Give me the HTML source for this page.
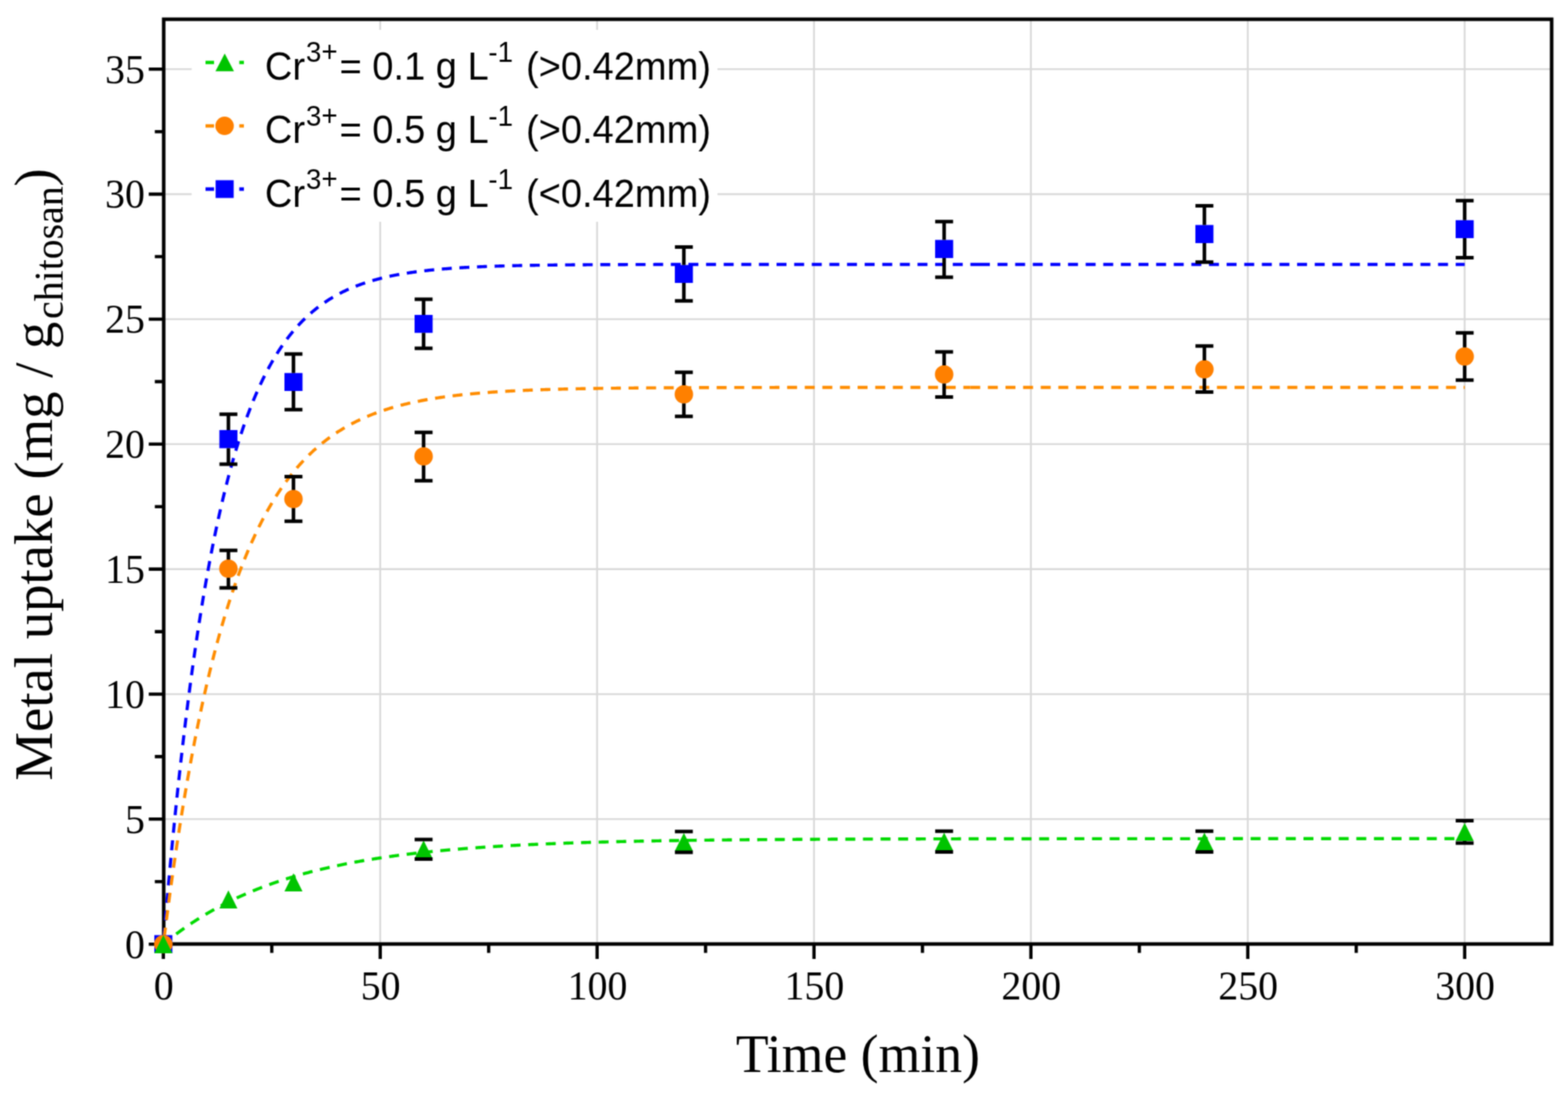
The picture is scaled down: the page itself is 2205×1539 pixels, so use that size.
<!DOCTYPE html>
<html><head><meta charset="utf-8"><title>Metal uptake vs time</title>
<style>html,body{margin:0;padding:0;background:#fff}svg{display:block}</style></head>
<body><svg width="2205" height="1539" viewBox="0 0 2205 1539">
<defs><filter id="soft" x="0" y="0" width="2205" height="1539" filterUnits="userSpaceOnUse" color-interpolation-filters="sRGB"><feConvolveMatrix order="5" kernelMatrix="1 6 15 6 1 6 36 90 36 6 15 90 225 90 15 6 36 90 36 6 1 6 15 6 1" divisor="841" edgeMode="duplicate" preserveAlpha="true"/></filter></defs>
<g filter="url(#soft)">
<rect width="2205" height="1539" fill="#fff"/>
<line x1="534.7" y1="27.1" x2="534.7" y2="1328.0" stroke="#d9d9d9" stroke-width="2.6"/>
<line x1="839.7" y1="27.1" x2="839.7" y2="1328.0" stroke="#d9d9d9" stroke-width="2.6"/>
<line x1="1144.7" y1="27.1" x2="1144.7" y2="1328.0" stroke="#d9d9d9" stroke-width="2.6"/>
<line x1="1449.7" y1="27.1" x2="1449.7" y2="1328.0" stroke="#d9d9d9" stroke-width="2.6"/>
<line x1="1754.7" y1="27.1" x2="1754.7" y2="1328.0" stroke="#d9d9d9" stroke-width="2.6"/>
<line x1="2059.7" y1="27.1" x2="2059.7" y2="1328.0" stroke="#d9d9d9" stroke-width="2.6"/>
<line x1="230.2" y1="1152.3" x2="2182.0" y2="1152.3" stroke="#d9d9d9" stroke-width="2.6"/>
<line x1="230.2" y1="976.5" x2="2182.0" y2="976.5" stroke="#d9d9d9" stroke-width="2.6"/>
<line x1="230.2" y1="800.6" x2="2182.0" y2="800.6" stroke="#d9d9d9" stroke-width="2.6"/>
<line x1="230.2" y1="624.8" x2="2182.0" y2="624.8" stroke="#d9d9d9" stroke-width="2.6"/>
<line x1="230.2" y1="449.0" x2="2182.0" y2="449.0" stroke="#d9d9d9" stroke-width="2.6"/>
<line x1="230.2" y1="273.1" x2="2182.0" y2="273.1" stroke="#d9d9d9" stroke-width="2.6"/>
<line x1="230.2" y1="97.2" x2="2182.0" y2="97.2" stroke="#d9d9d9" stroke-width="2.6"/>
<rect x="269.5" y="42" width="739.5" height="270" fill="#fff"/>
<rect x="230.2" y="27.1" width="1951.8" height="1300.9" fill="none" stroke="#000" stroke-width="5.0"/>
<path d="M209.2 1328.2H230.2M209.2 1152.3H230.2M209.2 976.5H230.2M209.2 800.6H230.2M209.2 624.8H230.2M209.2 449.0H230.2M209.2 273.1H230.2M209.2 97.2H230.2M217.7 1240.3H230.2M217.7 1064.4H230.2M217.7 888.6H230.2M217.7 712.7H230.2M217.7 536.9H230.2M217.7 361.0H230.2M217.7 185.2H230.2M229.7 1328.0V1349.0M534.7 1328.0V1349.0M839.7 1328.0V1349.0M1144.7 1328.0V1349.0M1449.7 1328.0V1349.0M1754.7 1328.0V1349.0M2059.7 1328.0V1349.0M382.2 1328.0V1340.5M687.2 1328.0V1340.5M992.2 1328.0V1340.5M1297.2 1328.0V1340.5M1602.2 1328.0V1340.5M1907.2 1328.0V1340.5" stroke="#000" stroke-width="4.6" fill="none"/>
<text x="203.8" y="1347.5" text-anchor="end" style="font-family:'Liberation Serif','Times New Roman',serif;font-size:56px">0</text>
<text x="203.8" y="1171.6" text-anchor="end" style="font-family:'Liberation Serif','Times New Roman',serif;font-size:56px">5</text>
<text x="203.8" y="995.8" text-anchor="end" style="font-family:'Liberation Serif','Times New Roman',serif;font-size:56px">10</text>
<text x="203.8" y="819.9" text-anchor="end" style="font-family:'Liberation Serif','Times New Roman',serif;font-size:56px">15</text>
<text x="203.8" y="644.1" text-anchor="end" style="font-family:'Liberation Serif','Times New Roman',serif;font-size:56px">20</text>
<text x="203.8" y="468.3" text-anchor="end" style="font-family:'Liberation Serif','Times New Roman',serif;font-size:56px">25</text>
<text x="203.8" y="292.4" text-anchor="end" style="font-family:'Liberation Serif','Times New Roman',serif;font-size:56px">30</text>
<text x="203.8" y="116.5" text-anchor="end" style="font-family:'Liberation Serif','Times New Roman',serif;font-size:56px">35</text>
<text x="230.2" y="1406" text-anchor="middle" style="font-family:'Liberation Serif','Times New Roman',serif;font-size:56px">0</text>
<text x="535.2" y="1406" text-anchor="middle" style="font-family:'Liberation Serif','Times New Roman',serif;font-size:56px">50</text>
<text x="840.2" y="1406" text-anchor="middle" style="font-family:'Liberation Serif','Times New Roman',serif;font-size:56px">100</text>
<text x="1145.2" y="1406" text-anchor="middle" style="font-family:'Liberation Serif','Times New Roman',serif;font-size:56px">150</text>
<text x="1450.2" y="1406" text-anchor="middle" style="font-family:'Liberation Serif','Times New Roman',serif;font-size:56px">200</text>
<text x="1755.2" y="1406" text-anchor="middle" style="font-family:'Liberation Serif','Times New Roman',serif;font-size:56px">250</text>
<text x="2060.2" y="1406" text-anchor="middle" style="font-family:'Liberation Serif','Times New Roman',serif;font-size:56px">300</text>
<text x="1034.8" y="1507.5" style="font-family:'Liberation Serif','Times New Roman',serif;font-size:75.5px">Time (min)</text>
<text transform="translate(72.5,1098.2) rotate(-90)" style="font-family:'Liberation Serif','Times New Roman',serif;font-size:77px">Metal uptake (mg / g</text>
<text transform="translate(88,448.7) rotate(-90)" style="font-family:'Liberation Serif','Times New Roman',serif;font-size:56px">chitosan</text>
<text transform="translate(72.5,262.6) rotate(-90)" style="font-family:'Liberation Serif','Times New Roman',serif;font-size:77px">)</text>
<path d="M229.70 1328.20L229.72 1327.94L229.77 1327.40L229.83 1326.67L229.90 1325.78L229.98 1324.75L230.08 1323.58L230.19 1322.30L230.30 1320.90L230.43 1319.39L230.56 1317.78L230.70 1316.07L230.85 1314.27L231.01 1312.39L231.18 1310.42L231.35 1308.36L231.53 1306.23L231.72 1304.02L231.91 1301.74L232.11 1299.38L232.31 1296.96L232.53 1294.46L232.75 1291.91L232.97 1289.29L233.20 1286.61L233.44 1283.86L233.68 1281.07L233.93 1278.21L234.18 1275.30L234.44 1272.33L234.70 1269.32L234.97 1266.25L235.25 1263.14L235.53 1259.97L235.81 1256.76L236.10 1253.51L236.40 1250.21L236.70 1246.86L237.00 1243.48L237.31 1240.06L237.63 1236.59L237.95 1233.09L238.27 1229.55L238.60 1225.98L238.93 1222.37L239.27 1218.72L239.61 1215.05L239.96 1211.34L240.31 1207.60L240.67 1203.83L241.03 1200.03L241.39 1196.20L241.76 1192.35L242.13 1188.47L242.51 1184.56L242.89 1180.63L243.28 1176.67L243.67 1172.69L244.06 1168.69L244.46 1164.67L244.86 1160.63L245.27 1156.57L245.68 1152.49L246.09 1148.39L246.51 1144.27L246.94 1140.14L247.36 1135.99L247.79 1131.83L248.23 1127.65L248.66 1123.46L249.11 1119.25L249.55 1115.04L250.00 1110.81L250.45 1106.57L250.91 1102.32L251.37 1098.06L251.83 1093.79L252.30 1089.51L252.77 1085.22L253.25 1080.93L253.73 1076.63L254.21 1072.33L254.70 1068.02L255.19 1063.70L255.68 1059.38L256.17 1055.06L256.67 1050.73L257.18 1046.40L257.69 1042.07L258.20 1037.74L258.71 1033.40L259.23 1029.07L259.75 1024.73L260.27 1020.40L260.80 1016.07L261.33 1011.74L261.87 1007.41L262.40 1003.08L262.94 998.76L263.49 994.43L264.04 990.12L264.59 985.80L265.14 981.50L265.70 977.19L266.26 972.90L266.82 968.60L267.39 964.32L267.96 960.04L268.54 955.77L269.11 951.51L269.69 947.25L270.28 943.00L270.86 938.76L271.45 934.53L272.05 930.31L272.64 926.10L273.24 921.90L273.84 917.71L274.45 913.53L275.06 909.36L275.67 905.20L276.28 901.05L276.90 896.92L277.52 892.79L278.14 888.68L278.77 884.59L279.40 880.50L280.03 876.43L280.67 872.37L281.31 868.33L281.95 864.30L282.59 860.28L283.24 856.28L283.89 852.30L284.54 848.33L285.20 844.37L285.86 840.43L286.52 836.51L287.19 832.60L287.85 828.70L288.53 824.83L289.20 820.97L289.88 817.12L290.56 813.30L291.24 809.49L291.92 805.69L292.61 801.92L293.30 798.16L294.00 794.42L294.69 790.70L295.39 787.00L296.09 783.31L296.80 779.64L297.51 775.99L298.22 772.36L298.93 768.75L299.65 765.16L300.36 761.58L301.09 758.03L301.81 754.49L302.54 750.97L303.27 747.47L304.00 744.00L304.73 740.54L305.47 737.10L306.21 733.68L306.96 730.28L307.70 726.90L308.45 723.54L309.20 720.20L309.96 716.88L310.71 713.57L311.47 710.29L312.23 707.03L313.00 703.80L313.77 700.58L314.54 697.38L315.31 694.20L316.08 691.04L316.86 687.90L317.64 684.78L318.43 681.69L319.21 678.61L320.00 675.56L320.79 672.52L321.58 669.51L322.38 666.51L323.18 663.54L323.98 660.58L324.78 657.65L325.59 654.74L326.40 651.85L327.21 648.98L328.02 646.13L328.84 643.30L329.66 640.49L330.48 637.70L331.30 634.94L332.13 632.19L332.96 629.46L333.79 626.76L334.62 624.07L335.46 621.40L336.30 618.76L337.14 616.13L337.98 613.53L338.83 610.95L339.68 608.38L340.53 605.84L341.39 603.32L342.24 600.81L343.10 598.33L343.96 595.86L344.82 593.42L345.69 591.00L346.56 588.59L347.43 586.21L348.30 583.85L349.18 581.50L350.06 579.18L350.94 576.87L351.82 574.58L352.71 572.32L353.59 570.07L354.48 567.84L355.38 565.63L356.27 563.44L357.17 561.27L358.07 559.12L358.97 556.99L359.87 554.87L360.78 552.78L361.69 550.70L362.60 548.64L363.52 546.60L364.43 544.58L365.35 542.58L366.27 540.59L367.19 538.63L368.12 536.68L369.05 534.75L369.98 532.83L370.91 530.94L371.84 529.06L372.78 527.20L373.72 525.36L374.66 523.54L375.61 521.73L376.55 519.94L377.50 518.17L378.45 516.41L379.41 514.67L380.36 512.95L381.32 511.24L382.28 509.55L383.24 507.88L384.21 506.23L385.17 504.59L386.14 502.96L387.11 501.36L388.09 499.76L389.06 498.19L390.04 496.63L391.02 495.09L392.00 493.56L392.99 492.05L393.98 490.55L394.96 489.07L395.96 487.60L396.95 486.15L397.95 484.71L398.94 483.29L399.94 481.89L400.95 480.50L401.95 479.12L402.96 477.76L403.97 476.41L404.98 475.07L405.99 473.75L407.01 472.45L408.03 471.16L409.05 469.88L410.07 468.61L411.09 467.36L412.12 466.13L413.15 464.90L414.18 463.69L415.21 462.50L416.25 461.31L417.28 460.14L418.32 458.99L419.37 457.84L420.41 456.71L421.46 455.59L422.50 454.48L423.55 453.39L424.61 452.31L425.66 451.24L426.72 450.18L427.78 449.13L428.84 448.10L429.90 447.08L430.97 446.07L432.03 445.07L433.10 444.08L434.18 443.11L435.25 442.14L436.32 441.19L437.40 440.25L438.48 439.32L439.56 438.40L440.65 437.49L441.74 436.59L442.82 435.70L443.91 434.82L445.01 433.96L446.10 433.10L447.20 432.25L448.30 431.42L449.40 430.59L450.50 429.77L451.61 428.97L452.71 428.17L453.82 427.38L454.93 426.61L456.05 425.84L457.16 425.08L458.28 424.33L459.40 423.59L460.52 422.86L461.64 422.14L462.77 421.42L463.90 420.72L465.03 420.03L466.16 419.34L467.29 418.66L468.43 417.99L469.57 417.33L470.71 416.68L471.85 416.03L472.99 415.40L474.14 414.77L475.29 414.15L476.44 413.54L477.59 412.93L478.74 412.33L479.90 411.75L481.06 411.16L482.22 410.59L483.38 410.02L484.54 409.46L485.71 408.91L486.88 408.37L488.05 407.83L489.22 407.30L490.39 406.78L491.57 406.26L492.75 405.75L493.93 405.25L495.11 404.75L496.29 404.26L497.48 403.78L498.66 403.30L499.85 402.83L501.05 402.36L502.24 401.91L503.44 401.45L504.63 401.01L505.83 400.57L507.03 400.13L508.24 399.71L509.44 399.28L510.65 398.87L511.86 398.46L513.07 398.05L514.28 397.65L515.50 397.26L516.72 396.87L517.94 396.49L519.16 396.11L520.38 395.73L521.60 395.37L522.83 395.00L524.06 394.65L525.29 394.29L526.52 393.95L527.76 393.60L528.99 393.27L530.23 392.93L531.47 392.61L532.72 392.28L533.96 391.96L535.21 391.65L536.45 391.34L537.70 391.03L538.95 390.73L540.21 390.43L541.46 390.14L542.72 389.85L543.98 389.57L545.24 389.29L546.51 389.01L547.77 388.74L549.04 388.47L550.31 388.21L551.58 387.94L552.85 387.69L554.12 387.43L555.40 387.18L556.68 386.94L557.96 386.70L559.24 386.46L560.52 386.22L561.81 385.99L563.10 385.76L564.39 385.54L565.68 385.32L566.97 385.10L568.27 384.88L569.56 384.67L570.86 384.46L572.16 384.26L573.46 384.06L574.77 383.86L576.07 383.66L577.38 383.47L578.69 383.28L580.00 383.09L581.32 382.90L582.63 382.72L583.95 382.54L585.27 382.37L586.59 382.19L587.91 382.02L589.24 381.85L590.56 381.69L591.89 381.52L593.22 381.36L594.55 381.21L595.89 381.05L597.22 380.90L598.56 380.74L599.90 380.60L601.24 380.45L602.58 380.31L603.93 380.16L605.28 380.02L606.62 379.89L607.97 379.75L609.33 379.62L610.68 379.49L612.03 379.36L613.39 379.23L614.75 379.11L616.11 378.98L617.47 378.86L618.84 378.74L620.21 378.62L621.57 378.51L622.94 378.40L624.32 378.28L625.69 378.17L627.06 378.07L628.44 377.96L629.82 377.85L631.20 377.75L632.58 377.65L633.97 377.55L635.35 377.45L636.74 377.36L638.13 377.26L639.52 377.17L640.91 377.08L642.31 376.99L643.71 376.90L645.10 376.81L646.50 376.72L647.91 376.64L649.31 376.55L650.72 376.47L652.12 376.39L653.53 376.31L654.94 376.24L656.35 376.16L657.77 376.08L659.18 376.01L660.60 375.94L662.02 375.86L663.44 375.79L664.87 375.73L666.29 375.66L667.72 375.59L669.15 375.52L670.58 375.46L672.01 375.40L673.44 375.33L674.88 375.27L676.31 375.21L677.75 375.15L679.19 375.09L680.63 375.04L682.08 374.98L683.52 374.92L684.97 374.87L686.42 374.82L687.87 374.76L689.32 374.71L690.78 374.66L692.23 374.61L693.69 374.56L695.15 374.51L696.61 374.46L698.07 374.42L699.54 374.37L701.01 374.33L702.47 374.28L703.94 374.24L705.41 374.20L706.89 374.15L708.36 374.11L709.84 374.07L711.32 374.03L712.80 373.99L714.28 373.95L715.76 373.92L717.25 373.88L718.73 373.84L720.22 373.81L721.71 373.77L723.20 373.74L724.70 373.70L726.19 373.67L727.69 373.64L729.19 373.60L730.69 373.57L732.19 373.54L733.69 373.51L735.20 373.48L736.71 373.45L738.21 373.42L739.72 373.39L741.24 373.37L742.75 373.34L744.27 373.31L745.78 373.29L747.30 373.26L748.82 373.23L750.34 373.21L751.87 373.18L753.39 373.16L754.92 373.14L756.45 373.11L757.98 373.09L759.51 373.07L761.05 373.05L762.58 373.02L764.12 373.00L765.66 372.98L767.20 372.96L768.74 372.94L770.28 372.92L771.83 372.90L773.37 372.88L774.92 372.87L776.47 372.85L778.03 372.83L779.58 372.81L781.13 372.79L782.69 372.78L784.25 372.76L785.81 372.74L787.37 372.73L788.94 372.71L790.50 372.70L792.07 372.68L793.64 372.67L795.21 372.65L796.78 372.64L798.35 372.62L799.93 372.61L801.50 372.60L803.08 372.58L804.66 372.57L806.24 372.56L807.82 372.55L809.41 372.53L811.00 372.52L812.58 372.51L814.17 372.50L815.76 372.49L817.36 372.47L818.95 372.46L820.55 372.45L822.15 372.44L823.75 372.43L825.35 372.42L826.95 372.41L828.55 372.40L830.16 372.39L831.77 372.38L833.37 372.37L834.99 372.37L836.60 372.36L838.21 372.35L839.83 372.34L841.44 372.33L843.06 372.32L844.68 372.31L846.30 372.31L847.93 372.30L849.55 372.29L851.18 372.28L852.81 372.28L854.44 372.27L856.07 372.26L857.70 372.26L859.34 372.25L860.97 372.24L862.61 372.24L864.25 372.23L865.89 372.22L867.53 372.22L869.18 372.21L870.82 372.21L872.47 372.20L874.12 372.19L875.77 372.19L877.42 372.18L879.08 372.18L880.73 372.17L882.39 372.17L884.05 372.16L885.71 372.16L887.37 372.15L889.03 372.15L890.70 372.14L892.36 372.14L894.03 372.13L895.70 372.13L897.37 372.13L899.04 372.12L900.72 372.12L902.39 372.11L904.07 372.11L905.75 372.11L907.43 372.10L909.11 372.10L910.80 372.09L912.48 372.09L914.17 372.09L915.86 372.08L917.55 372.08L919.24 372.08L920.93 372.07L922.62 372.07L924.32 372.07L926.02 372.07L927.72 372.06L929.42 372.06L931.12 372.06L932.82 372.05L934.53 372.05L936.24 372.05L937.94 372.05L939.65 372.04L941.37 372.04L943.08 372.04L944.79 372.04L946.51 372.03L948.23 372.03L949.95 372.03L951.67 372.03L953.39 372.02L955.11 372.02L956.84 372.02L958.57 372.02L960.29 372.02L962.02 372.01L963.76 372.01L965.49 372.01L967.22 372.01L968.96 372.01L970.70 372.01L972.44 372.00L974.18 372.00L975.92 372.00L977.66 372.00L979.41 372.00L981.15 372.00L982.90 371.99L984.65 371.99L986.40 371.99L988.16 371.99L989.91 371.99L991.67 371.99L993.42 371.99L995.18 371.98L996.94 371.98L998.71 371.98L1000.47 371.98L1002.23 371.98L1004.00 371.98L1005.77 371.98L1007.54 371.98L1009.31 371.98L1011.08 371.97L1012.86 371.97L1014.63 371.97L1016.41 371.97L1018.19 371.97L1019.97 371.97L1021.75 371.97L1023.53 371.97L1025.32 371.97L1027.10 371.97L1028.89 371.96L1030.68 371.96L1032.47 371.96L1034.26 371.96L1036.06 371.96L1037.85 371.96L1039.65 371.96L1041.45 371.96L1043.25 371.96L1045.05 371.96L1046.85 371.96L1048.65 371.96L1050.46 371.96L1052.27 371.96L1054.08 371.95L1055.89 371.95L1057.70 371.95L1059.51 371.95L1061.32 371.95L1063.14 371.95L1064.96 371.95L1066.78 371.95L1068.60 371.95L1070.42 371.95L1072.24 371.95L1074.07 371.95L1075.89 371.95L1077.72 371.95L1079.55 371.95L1081.38 371.95L1083.21 371.95L1085.05 371.95L1086.88 371.95L1088.72 371.95L1090.56 371.94L1092.40 371.94L1094.24 371.94L1096.08 371.94L1097.93 371.94L1099.77 371.94L1101.62 371.94L1103.47 371.94L1105.32 371.94L1107.17 371.94L1109.02 371.94L1110.88 371.94L1112.73 371.94L1114.59 371.94L1116.45 371.94L1118.31 371.94L1120.17 371.94L1122.03 371.94L1123.90 371.94L1125.76 371.94L1127.63 371.94L1129.50 371.94L1131.37 371.94L1133.24 371.94L1135.12 371.94L1136.99 371.94L1138.87 371.94L1140.75 371.94L1142.62 371.94L1144.50 371.94L1146.39 371.94L1148.27 371.94L1150.16 371.94L1152.04 371.94L1153.93 371.94L1155.82 371.94L1157.71 371.93L1159.60 371.93L1161.50 371.93L1163.39 371.93L1165.29 371.93L1167.19 371.93L1169.08 371.93L1170.99 371.93L1172.89 371.93L1174.79 371.93L1176.70 371.93L1178.60 371.93L1180.51 371.93L1182.42 371.93L1184.33 371.93L1186.24 371.93L1188.16 371.93L1190.07 371.93L1191.99 371.93L1193.91 371.93L1195.83 371.93L1197.75 371.93L1199.67 371.93L1201.59 371.93L1203.52 371.93L1205.45 371.93L1207.37 371.93L1209.30 371.93L1211.24 371.93L1213.17 371.93L1215.10 371.93L1217.04 371.93L1218.97 371.93L1220.91 371.93L1222.85 371.93L1224.79 371.93L1226.73 371.93L1228.68 371.93L1230.62 371.93L1232.57 371.93L1234.52 371.93L1236.47 371.93L1238.42 371.93L1240.37 371.93L1242.32 371.93L1244.28 371.93L1246.24 371.93L1248.19 371.93L1250.15 371.93L1252.11 371.93L1254.08 371.93L1256.04 371.93L1258.00 371.93L1259.97 371.93L1261.94 371.93L1263.91 371.93L1265.88 371.93L1267.85 371.93L1269.82 371.93L1271.80 371.93L1273.78 371.93L1275.75 371.93L1277.73 371.93L1279.71 371.93L1281.69 371.93L1283.68 371.93L1285.66 371.93L1287.65 371.93L1289.64 371.93L1291.62 371.93L1293.61 371.93L1295.61 371.93L1297.60 371.93L1299.59 371.93L1301.59 371.93L1303.59 371.93L1305.59 371.93L1307.59 371.93L1309.59 371.93L1311.59 371.93L1313.59 371.93L1315.60 371.93L1317.61 371.93L1319.62 371.93L1321.62 371.93L1323.64 371.93L1325.65 371.93L1327.66 371.93L1329.68 371.93L1331.69 371.93L1333.71 371.93L1335.73 371.93L1337.75 371.93L1339.77 371.93L1341.80 371.93L1343.82 371.93L1345.85 371.93L1347.88 371.93L1349.91 371.93L1351.94 371.93L1353.97 371.93L1356.00 371.93L1358.04 371.93L1360.07 371.93L1362.11 371.93L1364.15 371.93L1366.19 371.93L1368.23 371.93L1370.27 371.93L1372.32 371.93L1374.36 371.93L1376.41 371.93L1378.00 371.93" stroke="#0000ff" stroke-width="4.4" fill="none" stroke-dasharray="14.0 10.78" stroke-dashoffset="16.06"/><path d="M1378.00 371.93L1378.46 371.93L1380.51 371.93L1382.56 371.93L1384.61 371.93L1386.67 371.93L1388.72 371.93L1390.78 371.93L1392.84 371.93L1394.90 371.93L1396.96 371.93L1399.02 371.93L1401.08 371.93L1403.15 371.93L1405.21 371.93L1407.28 371.93L1409.35 371.93L1411.42 371.93L1413.49 371.93L1415.56 371.93L1417.64 371.93L1419.71 371.93L1421.79 371.93L1423.87 371.93L1425.95 371.93L1428.03 371.93L1430.11 371.93L1432.20 371.93L1434.28 371.93L1436.37 371.93L1438.46 371.93L1440.55 371.93L1442.64 371.93L1444.73 371.93L1446.82 371.93L1448.92 371.93L1451.01 371.93L1453.11 371.93L1455.21 371.93L1457.31 371.93L1459.41 371.93L1461.51 371.93L1463.62 371.93L1465.72 371.93L1467.83 371.93L1469.94 371.93L1472.05 371.93L1474.16 371.93L1476.27 371.93L1478.38 371.93L1480.50 371.93L1482.61 371.93L1484.73 371.93L1486.85 371.93L1488.97 371.93L1491.09 371.93L1493.21 371.93L1495.34 371.93L1497.46 371.93L1499.59 371.93L1501.72 371.93L1503.85 371.93L1505.98 371.93L1508.11 371.93L1510.25 371.93L1512.38 371.93L1514.52 371.93L1516.65 371.93L1518.79 371.93L1520.93 371.93L1523.08 371.93L1525.22 371.93L1527.36 371.93L1529.51 371.93L1531.65 371.93L1533.80 371.93L1535.95 371.93L1538.10 371.93L1540.26 371.93L1542.41 371.93L1544.56 371.93L1546.72 371.93L1548.88 371.93L1551.04 371.93L1553.20 371.93L1555.36 371.93L1557.52 371.93L1559.68 371.93L1561.85 371.93L1564.02 371.93L1566.19 371.93L1568.35 371.93L1570.53 371.93L1572.70 371.93L1574.87 371.93L1577.05 371.93L1579.22 371.93L1581.40 371.93L1583.58 371.93L1585.76 371.93L1587.94 371.93L1590.12 371.93L1592.30 371.93L1594.49 371.93L1596.68 371.93L1598.86 371.93L1601.05 371.93L1603.24 371.93L1605.44 371.93L1607.63 371.93L1609.82 371.93L1612.02 371.93L1614.22 371.93L1616.41 371.93L1618.61 371.93L1620.81 371.93L1623.02 371.93L1625.22 371.93L1627.43 371.93L1629.63 371.93L1631.84 371.93L1634.05 371.93L1636.26 371.93L1638.47 371.93L1640.68 371.93L1642.90 371.93L1645.11 371.93L1647.33 371.93L1649.55 371.93L1651.76 371.93L1653.98 371.93L1656.21 371.93L1658.43 371.93L1660.65 371.93L1662.88 371.93L1665.11 371.93L1667.33 371.93L1669.56 371.93L1671.80 371.93L1674.03 371.93L1676.26 371.93L1678.50 371.93L1680.73 371.93L1682.97 371.93L1685.21 371.93L1687.45 371.93L1689.69 371.93L1691.93 371.93L1694.17 371.93L1696.42 371.93L1698.67 371.93L1700.91 371.93L1703.16 371.93L1705.41 371.93L1707.66 371.93L1709.92 371.93L1712.17 371.93L1714.43 371.93L1716.68 371.93L1718.94 371.93L1721.20 371.93L1723.46 371.93L1725.72 371.93L1727.99 371.93L1730.25 371.93L1732.52 371.93L1734.78 371.93L1737.05 371.93L1739.32 371.93L1741.59 371.93L1743.86 371.93L1746.14 371.93L1748.41 371.93L1750.69 371.93L1752.96 371.93L1755.24 371.93L1757.52 371.93L1759.80 371.93L1762.09 371.93L1764.37 371.93L1766.65 371.93L1768.94 371.93L1771.23 371.93L1773.52 371.93L1775.81 371.93L1778.10 371.93L1780.39 371.93L1782.68 371.93L1784.98 371.93L1787.27 371.93L1789.57 371.93L1791.87 371.93L1794.17 371.93L1796.47 371.93L1798.77 371.93L1801.08 371.93L1803.38 371.93L1805.69 371.93L1808.00 371.93L1810.31 371.93L1812.62 371.93L1814.93 371.93L1817.24 371.93L1819.55 371.93L1821.87 371.93L1824.19 371.93L1826.50 371.93L1828.82 371.93L1831.14 371.93L1833.47 371.93L1835.79 371.93L1838.11 371.93L1840.44 371.93L1842.76 371.93L1845.09 371.93L1847.42 371.93L1849.75 371.93L1852.08 371.93L1854.42 371.93L1856.75 371.93L1859.09 371.93L1861.42 371.93L1863.76 371.93L1866.10 371.93L1868.44 371.93L1870.78 371.93L1873.12 371.93L1875.47 371.93L1877.81 371.93L1880.16 371.93L1882.51 371.93L1884.86 371.93L1887.21 371.93L1889.56 371.93L1891.91 371.93L1894.27 371.93L1896.62 371.93L1898.98 371.93L1901.34 371.93L1903.70 371.93L1906.06 371.93L1908.42 371.93L1910.78 371.93L1913.15 371.93L1915.51 371.93L1917.88 371.93L1920.25 371.93L1922.61 371.93L1924.99 371.93L1927.36 371.93L1929.73 371.93L1932.10 371.93L1934.48 371.93L1936.86 371.93L1939.23 371.93L1941.61 371.93L1943.99 371.93L1946.37 371.93L1948.76 371.93L1951.14 371.93L1953.53 371.93L1955.91 371.93L1958.30 371.93L1960.69 371.93L1963.08 371.93L1965.47 371.93L1967.86 371.93L1970.26 371.93L1972.65 371.93L1975.05 371.93L1977.45 371.93L1979.85 371.93L1982.25 371.93L1984.65 371.93L1987.05 371.93L1989.45 371.93L1991.86 371.93L1994.27 371.93L1996.67 371.93L1999.08 371.93L2001.49 371.93L2003.90 371.93L2006.32 371.93L2008.73 371.93L2011.14 371.93L2013.56 371.93L2015.98 371.93L2018.40 371.93L2020.82 371.93L2023.24 371.93L2025.66 371.93L2028.08 371.93L2030.51 371.93L2032.93 371.93L2035.36 371.93L2037.79 371.93L2040.22 371.93L2042.65 371.93L2045.08 371.93L2047.52 371.93L2049.95 371.93L2052.39 371.93L2054.82 371.93L2057.26 371.93L2059.70 371.93" stroke="#0000ff" stroke-width="4.4" fill="none" stroke-dasharray="14.0 10.78" stroke-dashoffset="0.00"/>
<path d="M229.70 1328.20L229.72 1328.03L229.77 1327.67L229.83 1327.19L229.90 1326.60L229.98 1325.91L230.08 1325.13L230.19 1324.28L230.30 1323.35L230.43 1322.35L230.56 1321.28L230.70 1320.14L230.85 1318.94L231.01 1317.69L231.18 1316.38L231.35 1315.01L231.53 1313.59L231.72 1312.11L231.91 1310.59L232.11 1309.02L232.31 1307.40L232.53 1305.73L232.75 1304.02L232.97 1302.27L233.20 1300.48L233.44 1298.64L233.68 1296.77L233.93 1294.85L234.18 1292.90L234.44 1290.91L234.70 1288.89L234.97 1286.83L235.25 1284.73L235.53 1282.60L235.81 1280.44L236.10 1278.25L236.40 1276.02L236.70 1273.77L237.00 1271.48L237.31 1269.17L237.63 1266.83L237.95 1264.46L238.27 1262.06L238.60 1259.64L238.93 1257.19L239.27 1254.71L239.61 1252.22L239.96 1249.69L240.31 1247.15L240.67 1244.58L241.03 1241.99L241.39 1239.38L241.76 1236.75L242.13 1234.09L242.51 1231.42L242.89 1228.73L243.28 1226.02L243.67 1223.29L244.06 1220.54L244.46 1217.78L244.86 1214.99L245.27 1212.20L245.68 1209.38L246.09 1206.56L246.51 1203.71L246.94 1200.85L247.36 1197.98L247.79 1195.10L248.23 1192.20L248.66 1189.29L249.11 1186.37L249.55 1183.43L250.00 1180.49L250.45 1177.53L250.91 1174.56L251.37 1171.58L251.83 1168.60L252.30 1165.60L252.77 1162.59L253.25 1159.58L253.73 1156.56L254.21 1153.53L254.70 1150.49L255.19 1147.45L255.68 1144.40L256.17 1141.34L256.67 1138.28L257.18 1135.21L257.69 1132.14L258.20 1129.06L258.71 1125.98L259.23 1122.89L259.75 1119.80L260.27 1116.70L260.80 1113.61L261.33 1110.51L261.87 1107.40L262.40 1104.30L262.94 1101.19L263.49 1098.08L264.04 1094.97L264.59 1091.86L265.14 1088.75L265.70 1085.64L266.26 1082.52L266.82 1079.41L267.39 1076.30L267.96 1073.19L268.54 1070.08L269.11 1066.97L269.69 1063.86L270.28 1060.75L270.86 1057.65L271.45 1054.54L272.05 1051.44L272.64 1048.35L273.24 1045.25L273.84 1042.16L274.45 1039.07L275.06 1035.99L275.67 1032.91L276.28 1029.83L276.90 1026.76L277.52 1023.69L278.14 1020.62L278.77 1017.57L279.40 1014.51L280.03 1011.46L280.67 1008.42L281.31 1005.38L281.95 1002.35L282.59 999.33L283.24 996.31L283.89 993.30L284.54 990.29L285.20 987.29L285.86 984.30L286.52 981.32L287.19 978.34L287.85 975.37L288.53 972.41L289.20 969.45L289.88 966.51L290.56 963.57L291.24 960.64L291.92 957.72L292.61 954.80L293.30 951.90L294.00 949.00L294.69 946.11L295.39 943.24L296.09 940.37L296.80 937.51L297.51 934.66L298.22 931.82L298.93 928.99L299.65 926.17L300.36 923.36L301.09 920.56L301.81 917.77L302.54 914.99L303.27 912.22L304.00 909.46L304.73 906.71L305.47 903.97L306.21 901.25L306.96 898.53L307.70 895.83L308.45 893.13L309.20 890.45L309.96 887.78L310.71 885.12L311.47 882.47L312.23 879.83L313.00 877.21L313.77 874.59L314.54 871.99L315.31 869.40L316.08 866.82L316.86 864.25L317.64 861.70L318.43 859.16L319.21 856.62L320.00 854.11L320.79 851.60L321.58 849.10L322.38 846.62L323.18 844.15L323.98 841.70L324.78 839.25L325.59 836.82L326.40 834.40L327.21 831.99L328.02 829.60L328.84 827.21L329.66 824.84L330.48 822.49L331.30 820.14L332.13 817.81L332.96 815.49L333.79 813.19L334.62 810.89L335.46 808.61L336.30 806.35L337.14 804.09L337.98 801.85L338.83 799.62L339.68 797.41L340.53 795.20L341.39 793.01L342.24 790.84L343.10 788.67L343.96 786.52L344.82 784.38L345.69 782.26L346.56 780.15L347.43 778.05L348.30 775.96L349.18 773.89L350.06 771.83L350.94 769.78L351.82 767.75L352.71 765.72L353.59 763.72L354.48 761.72L355.38 759.74L356.27 757.77L357.17 755.81L358.07 753.87L358.97 751.94L359.87 750.02L360.78 748.11L361.69 746.22L362.60 744.34L363.52 742.47L364.43 740.62L365.35 738.78L366.27 736.95L367.19 735.13L368.12 733.33L369.05 731.54L369.98 729.76L370.91 728.00L371.84 726.24L372.78 724.50L373.72 722.78L374.66 721.06L375.61 719.36L376.55 717.67L377.50 715.99L378.45 714.32L379.41 712.67L380.36 711.03L381.32 709.40L382.28 707.78L383.24 706.17L384.21 704.58L385.17 703.00L386.14 701.43L387.11 699.88L388.09 698.33L389.06 696.80L390.04 695.28L391.02 693.77L392.00 692.27L392.99 690.78L393.98 689.31L394.96 687.85L395.96 686.40L396.95 684.96L397.95 683.53L398.94 682.11L399.94 680.71L400.95 679.31L401.95 677.93L402.96 676.56L403.97 675.20L404.98 673.85L405.99 672.51L407.01 671.19L408.03 669.87L409.05 668.56L410.07 667.27L411.09 665.99L412.12 664.72L413.15 663.45L414.18 662.20L415.21 660.96L416.25 659.73L417.28 658.51L418.32 657.30L419.37 656.11L420.41 654.92L421.46 653.74L422.50 652.57L423.55 651.42L424.61 650.27L425.66 649.13L426.72 648.00L427.78 646.89L428.84 645.78L429.90 644.68L430.97 643.59L432.03 642.52L433.10 641.45L434.18 640.39L435.25 639.34L436.32 638.30L437.40 637.27L438.48 636.25L439.56 635.24L440.65 634.24L441.74 633.24L442.82 632.26L443.91 631.29L445.01 630.32L446.10 629.36L447.20 628.42L448.30 627.48L449.40 626.55L450.50 625.63L451.61 624.71L452.71 623.81L453.82 622.91L454.93 622.03L456.05 621.15L457.16 620.28L458.28 619.42L459.40 618.57L460.52 617.72L461.64 616.88L462.77 616.06L463.90 615.23L465.03 614.42L466.16 613.62L467.29 612.82L468.43 612.03L469.57 611.25L470.71 610.48L471.85 609.71L472.99 608.95L474.14 608.20L475.29 607.46L476.44 606.73L477.59 606.00L478.74 605.28L479.90 604.56L481.06 603.86L482.22 603.16L483.38 602.47L484.54 601.78L485.71 601.10L486.88 600.43L488.05 599.77L489.22 599.11L490.39 598.46L491.57 597.82L492.75 597.18L493.93 596.55L495.11 595.92L496.29 595.31L497.48 594.70L498.66 594.09L499.85 593.49L501.05 592.90L502.24 592.32L503.44 591.74L504.63 591.16L505.83 590.60L507.03 590.04L508.24 589.48L509.44 588.93L510.65 588.39L511.86 587.85L513.07 587.32L514.28 586.79L515.50 586.27L516.72 585.76L517.94 585.25L519.16 584.75L520.38 584.25L521.60 583.76L522.83 583.27L524.06 582.79L525.29 582.31L526.52 581.84L527.76 581.38L528.99 580.92L530.23 580.46L531.47 580.01L532.72 579.56L533.96 579.12L535.21 578.69L536.45 578.26L537.70 577.83L538.95 577.41L540.21 577.00L541.46 576.58L542.72 576.18L543.98 575.78L545.24 575.38L546.51 574.99L547.77 574.60L549.04 574.21L550.31 573.83L551.58 573.46L552.85 573.09L554.12 572.72L555.40 572.36L556.68 572.00L557.96 571.65L559.24 571.30L560.52 570.95L561.81 570.61L563.10 570.27L564.39 569.94L565.68 569.61L566.97 569.28L568.27 568.96L569.56 568.64L570.86 568.33L572.16 568.02L573.46 567.71L574.77 567.41L576.07 567.11L577.38 566.81L578.69 566.52L580.00 566.23L581.32 565.94L582.63 565.66L583.95 565.38L585.27 565.11L586.59 564.83L587.91 564.57L589.24 564.30L590.56 564.04L591.89 563.78L593.22 563.52L594.55 563.27L595.89 563.02L597.22 562.77L598.56 562.53L599.90 562.29L601.24 562.05L602.58 561.82L603.93 561.59L605.28 561.36L606.62 561.13L607.97 560.91L609.33 560.69L610.68 560.47L612.03 560.26L613.39 560.04L614.75 559.83L616.11 559.63L617.47 559.42L618.84 559.22L620.21 559.02L621.57 558.82L622.94 558.63L624.32 558.44L625.69 558.25L627.06 558.06L628.44 557.88L629.82 557.70L631.20 557.52L632.58 557.34L633.97 557.16L635.35 556.99L636.74 556.82L638.13 556.65L639.52 556.49L640.91 556.32L642.31 556.16L643.71 556.00L645.10 555.84L646.50 555.69L647.91 555.53L649.31 555.38L650.72 555.23L652.12 555.08L653.53 554.94L654.94 554.80L656.35 554.65L657.77 554.51L659.18 554.37L660.60 554.24L662.02 554.10L663.44 553.97L664.87 553.84L666.29 553.71L667.72 553.58L669.15 553.46L670.58 553.33L672.01 553.21L673.44 553.09L674.88 552.97L676.31 552.85L677.75 552.74L679.19 552.62L680.63 552.51L682.08 552.40L683.52 552.29L684.97 552.18L686.42 552.07L687.87 551.97L689.32 551.86L690.78 551.76L692.23 551.66L693.69 551.56L695.15 551.46L696.61 551.37L698.07 551.27L699.54 551.18L701.01 551.08L702.47 550.99L703.94 550.90L705.41 550.81L706.89 550.72L708.36 550.64L709.84 550.55L711.32 550.47L712.80 550.38L714.28 550.30L715.76 550.22L717.25 550.14L718.73 550.06L720.22 549.98L721.71 549.91L723.20 549.83L724.70 549.76L726.19 549.69L727.69 549.61L729.19 549.54L730.69 549.47L732.19 549.40L733.69 549.33L735.20 549.27L736.71 549.20L738.21 549.14L739.72 549.07L741.24 549.01L742.75 548.95L744.27 548.88L745.78 548.82L747.30 548.76L748.82 548.70L750.34 548.65L751.87 548.59L753.39 548.53L754.92 548.48L756.45 548.42L757.98 548.37L759.51 548.31L761.05 548.26L762.58 548.21L764.12 548.16L765.66 548.11L767.20 548.06L768.74 548.01L770.28 547.96L771.83 547.92L773.37 547.87L774.92 547.82L776.47 547.78L778.03 547.73L779.58 547.69L781.13 547.65L782.69 547.60L784.25 547.56L785.81 547.52L787.37 547.48L788.94 547.44L790.50 547.40L792.07 547.36L793.64 547.32L795.21 547.28L796.78 547.25L798.35 547.21L799.93 547.17L801.50 547.14L803.08 547.10L804.66 547.07L806.24 547.03L807.82 547.00L809.41 546.97L811.00 546.94L812.58 546.90L814.17 546.87L815.76 546.84L817.36 546.81L818.95 546.78L820.55 546.75L822.15 546.72L823.75 546.69L825.35 546.67L826.95 546.64L828.55 546.61L830.16 546.58L831.77 546.56L833.37 546.53L834.99 546.50L836.60 546.48L838.21 546.45L839.83 546.43L841.44 546.41L843.06 546.38L844.68 546.36L846.30 546.33L847.93 546.31L849.55 546.29L851.18 546.27L852.81 546.25L854.44 546.22L856.07 546.20L857.70 546.18L859.34 546.16L860.97 546.14L862.61 546.12L864.25 546.10L865.89 546.08L867.53 546.07L869.18 546.05L870.82 546.03L872.47 546.01L874.12 545.99L875.77 545.98L877.42 545.96L879.08 545.94L880.73 545.93L882.39 545.91L884.05 545.89L885.71 545.88L887.37 545.86L889.03 545.85L890.70 545.83L892.36 545.82L894.03 545.80L895.70 545.79L897.37 545.77L899.04 545.76L900.72 545.75L902.39 545.73L904.07 545.72L905.75 545.71L907.43 545.69L909.11 545.68L910.80 545.67L912.48 545.66L914.17 545.65L915.86 545.63L917.55 545.62L919.24 545.61L920.93 545.60L922.62 545.59L924.32 545.58L926.02 545.57L927.72 545.56L929.42 545.55L931.12 545.54L932.82 545.53L934.53 545.52L936.24 545.51L937.94 545.50L939.65 545.49L941.37 545.48L943.08 545.47L944.79 545.46L946.51 545.45L948.23 545.44L949.95 545.44L951.67 545.43L953.39 545.42L955.11 545.41L956.84 545.40L958.57 545.40L960.29 545.39L962.02 545.38L963.76 545.37L965.49 545.37L967.22 545.36L968.96 545.35L970.70 545.35L972.44 545.34L974.18 545.33L975.92 545.33L977.66 545.32L979.41 545.31L981.15 545.31L982.90 545.30L984.65 545.29L986.40 545.29L988.16 545.28L989.91 545.28L991.67 545.27L993.42 545.27L995.18 545.26L996.94 545.25L998.71 545.25L1000.47 545.24L1002.23 545.24L1004.00 545.23L1005.77 545.23L1007.54 545.22L1009.31 545.22L1011.08 545.22L1012.86 545.21L1014.63 545.21L1016.41 545.20L1018.19 545.20L1019.97 545.19L1021.75 545.19L1023.53 545.19L1025.32 545.18L1027.10 545.18L1028.89 545.17L1030.68 545.17L1032.47 545.17L1034.26 545.16L1036.06 545.16L1037.85 545.15L1039.65 545.15L1041.45 545.15L1043.25 545.14L1045.05 545.14L1046.85 545.14L1048.65 545.13L1050.46 545.13L1052.27 545.13L1054.08 545.13L1055.89 545.12L1057.70 545.12L1059.51 545.12L1061.32 545.11L1063.14 545.11L1064.96 545.11L1066.78 545.11L1068.60 545.10L1070.42 545.10L1072.24 545.10L1074.07 545.10L1075.89 545.09L1077.72 545.09L1079.55 545.09L1081.38 545.09L1083.21 545.08L1085.05 545.08L1086.88 545.08L1088.72 545.08L1090.56 545.07L1092.40 545.07L1094.24 545.07L1096.08 545.07L1097.93 545.07L1099.77 545.06L1101.62 545.06L1103.47 545.06L1105.32 545.06L1107.17 545.06L1109.02 545.06L1110.88 545.05L1112.73 545.05L1114.59 545.05L1116.45 545.05L1118.31 545.05L1120.17 545.05L1122.03 545.04L1123.90 545.04L1125.76 545.04L1127.63 545.04L1129.50 545.04L1131.37 545.04L1133.24 545.04L1135.12 545.03L1136.99 545.03L1138.87 545.03L1140.75 545.03L1142.62 545.03L1144.50 545.03L1146.39 545.03L1148.27 545.03L1150.16 545.02L1152.04 545.02L1153.93 545.02L1155.82 545.02L1157.71 545.02L1159.60 545.02L1161.50 545.02L1163.39 545.02L1165.29 545.02L1167.19 545.01L1169.08 545.01L1170.99 545.01L1172.89 545.01L1174.79 545.01L1176.70 545.01L1178.60 545.01L1180.51 545.01L1182.42 545.01L1184.33 545.01L1186.24 545.01L1188.16 545.00L1190.07 545.00L1191.99 545.00L1193.91 545.00L1195.83 545.00L1197.75 545.00L1199.67 545.00L1201.59 545.00L1203.52 545.00L1205.45 545.00L1207.37 545.00L1209.30 545.00L1211.24 545.00L1213.17 545.00L1215.10 544.99L1217.04 544.99L1218.97 544.99L1220.91 544.99L1222.85 544.99L1224.79 544.99L1226.73 544.99L1228.68 544.99L1230.62 544.99L1232.57 544.99L1234.52 544.99L1236.47 544.99L1238.42 544.99L1240.37 544.99L1242.32 544.99L1244.28 544.99L1246.24 544.99L1248.19 544.99L1250.15 544.99L1252.11 544.99L1254.08 544.98L1256.04 544.98L1258.00 544.98L1259.97 544.98L1261.94 544.98L1263.91 544.98L1265.88 544.98L1267.85 544.98L1269.82 544.98L1271.80 544.98L1273.78 544.98L1275.75 544.98L1277.73 544.98L1279.71 544.98L1281.69 544.98L1283.68 544.98L1285.66 544.98L1287.65 544.98L1289.64 544.98L1291.62 544.98L1293.61 544.98L1295.61 544.98L1297.60 544.98L1299.59 544.98L1301.59 544.98L1303.59 544.98L1305.59 544.98L1307.59 544.98L1309.59 544.98L1311.59 544.98L1313.59 544.98L1315.60 544.98L1317.61 544.97L1319.62 544.97L1321.62 544.97L1323.64 544.97L1325.65 544.97L1327.66 544.97L1329.68 544.97L1331.69 544.97L1333.71 544.97L1335.73 544.97L1337.75 544.97L1339.77 544.97L1341.80 544.97L1343.82 544.97L1345.85 544.97L1347.88 544.97L1349.91 544.97L1351.94 544.97L1353.97 544.97L1356.00 544.97L1358.04 544.97L1360.07 544.97L1362.11 544.97L1364.15 544.97L1364.40 544.97" stroke="#ff8c00" stroke-width="4.4" fill="none" stroke-dasharray="14.0 10.78" stroke-dashoffset="15.38"/><path d="M1364.40 544.97L1366.19 544.97L1368.23 544.97L1370.27 544.97L1372.32 544.97L1374.36 544.97L1376.41 544.97L1378.46 544.97L1380.51 544.97L1382.56 544.97L1384.61 544.97L1386.67 544.97L1388.72 544.97L1390.78 544.97L1392.84 544.97L1394.90 544.97L1396.96 544.97L1399.02 544.97L1401.08 544.97L1403.15 544.97L1405.21 544.97L1407.28 544.97L1409.35 544.97L1411.42 544.97L1413.49 544.97L1415.56 544.97L1417.64 544.97L1419.71 544.97L1421.79 544.97L1423.87 544.97L1425.95 544.97L1428.03 544.97L1430.11 544.97L1432.20 544.97L1434.28 544.97L1436.37 544.97L1438.46 544.97L1440.55 544.97L1442.64 544.97L1444.73 544.97L1446.82 544.97L1448.92 544.97L1451.01 544.97L1453.11 544.97L1455.21 544.97L1457.31 544.97L1459.41 544.97L1461.51 544.97L1463.62 544.97L1465.72 544.97L1467.83 544.97L1469.94 544.97L1472.05 544.97L1474.16 544.97L1476.27 544.97L1478.38 544.97L1480.50 544.97L1482.61 544.97L1484.73 544.97L1486.85 544.97L1488.97 544.97L1491.09 544.97L1493.21 544.97L1495.34 544.97L1497.46 544.97L1499.59 544.97L1501.72 544.97L1503.85 544.97L1505.98 544.97L1508.11 544.97L1510.25 544.97L1512.38 544.97L1514.52 544.97L1516.65 544.97L1518.79 544.97L1520.93 544.97L1523.08 544.97L1525.22 544.97L1527.36 544.97L1529.51 544.97L1531.65 544.97L1533.80 544.97L1535.95 544.97L1538.10 544.97L1540.26 544.97L1542.41 544.97L1544.56 544.97L1546.72 544.97L1548.88 544.97L1551.04 544.97L1553.20 544.97L1555.36 544.97L1557.52 544.97L1559.68 544.96L1561.85 544.96L1564.02 544.96L1566.19 544.96L1568.35 544.96L1570.53 544.96L1572.70 544.96L1574.87 544.96L1577.05 544.96L1579.22 544.96L1581.40 544.96L1583.58 544.96L1585.76 544.96L1587.94 544.96L1590.12 544.96L1592.30 544.96L1594.49 544.96L1596.68 544.96L1598.86 544.96L1601.05 544.96L1603.24 544.96L1605.44 544.96L1607.63 544.96L1609.82 544.96L1612.02 544.96L1614.22 544.96L1616.41 544.96L1618.61 544.96L1620.81 544.96L1623.02 544.96L1625.22 544.96L1627.43 544.96L1629.63 544.96L1631.84 544.96L1634.05 544.96L1636.26 544.96L1638.47 544.96L1640.68 544.96L1642.90 544.96L1645.11 544.96L1647.33 544.96L1649.55 544.96L1651.76 544.96L1653.98 544.96L1656.21 544.96L1658.43 544.96L1660.65 544.96L1662.88 544.96L1665.11 544.96L1667.33 544.96L1669.56 544.96L1671.80 544.96L1674.03 544.96L1676.26 544.96L1678.50 544.96L1680.73 544.96L1682.97 544.96L1685.21 544.96L1687.45 544.96L1689.69 544.96L1691.93 544.96L1694.17 544.96L1696.42 544.96L1698.67 544.96L1700.91 544.96L1703.16 544.96L1705.41 544.96L1707.66 544.96L1709.92 544.96L1712.17 544.96L1714.43 544.96L1716.68 544.96L1718.94 544.96L1721.20 544.96L1723.46 544.96L1725.72 544.96L1727.99 544.96L1730.25 544.96L1732.52 544.96L1734.78 544.96L1737.05 544.96L1739.32 544.96L1741.59 544.96L1743.86 544.96L1746.14 544.96L1748.41 544.96L1750.69 544.96L1752.96 544.96L1755.24 544.96L1757.52 544.96L1759.80 544.96L1762.09 544.96L1764.37 544.96L1766.65 544.96L1768.94 544.96L1771.23 544.96L1773.52 544.96L1775.81 544.96L1778.10 544.96L1780.39 544.96L1782.68 544.96L1784.98 544.96L1787.27 544.96L1789.57 544.96L1791.87 544.96L1794.17 544.96L1796.47 544.96L1798.77 544.96L1801.08 544.96L1803.38 544.96L1805.69 544.96L1808.00 544.96L1810.31 544.96L1812.62 544.96L1814.93 544.96L1817.24 544.96L1819.55 544.96L1821.87 544.96L1824.19 544.96L1826.50 544.96L1828.82 544.96L1831.14 544.96L1833.47 544.96L1835.79 544.96L1838.11 544.96L1840.44 544.96L1842.76 544.96L1845.09 544.96L1847.42 544.96L1849.75 544.96L1852.08 544.96L1854.42 544.96L1856.75 544.96L1859.09 544.96L1861.42 544.96L1863.76 544.96L1866.10 544.96L1868.44 544.96L1870.78 544.96L1873.12 544.96L1875.47 544.96L1877.81 544.96L1880.16 544.96L1882.51 544.96L1884.86 544.96L1887.21 544.96L1889.56 544.96L1891.91 544.96L1894.27 544.96L1896.62 544.96L1898.98 544.96L1901.34 544.96L1903.70 544.96L1906.06 544.96L1908.42 544.96L1910.78 544.96L1913.15 544.96L1915.51 544.96L1917.88 544.96L1920.25 544.96L1922.61 544.96L1924.99 544.96L1927.36 544.96L1929.73 544.96L1932.10 544.96L1934.48 544.96L1936.86 544.96L1939.23 544.96L1941.61 544.96L1943.99 544.96L1946.37 544.96L1948.76 544.96L1951.14 544.96L1953.53 544.96L1955.91 544.96L1958.30 544.96L1960.69 544.96L1963.08 544.96L1965.47 544.96L1967.86 544.96L1970.26 544.96L1972.65 544.96L1975.05 544.96L1977.45 544.96L1979.85 544.96L1982.25 544.96L1984.65 544.96L1987.05 544.96L1989.45 544.96L1991.86 544.96L1994.27 544.96L1996.67 544.96L1999.08 544.96L2001.49 544.96L2003.90 544.96L2006.32 544.96L2008.73 544.96L2011.14 544.96L2013.56 544.96L2015.98 544.96L2018.40 544.96L2020.82 544.96L2023.24 544.96L2025.66 544.96L2028.08 544.96L2030.51 544.96L2032.93 544.96L2035.36 544.96L2037.79 544.96L2040.22 544.96L2042.65 544.96L2045.08 544.96L2047.52 544.96L2049.95 544.96L2052.39 544.96L2054.82 544.96L2057.26 544.96L2059.70 544.96" stroke="#ff8c00" stroke-width="4.4" fill="none" stroke-dasharray="14.0 10.78" stroke-dashoffset="0.00"/>
<path d="M229.70 1328.20L229.72 1328.18L229.77 1328.15L229.83 1328.10L229.90 1328.04L229.98 1327.96L230.08 1327.89L230.19 1327.80L230.30 1327.70L230.43 1327.60L230.56 1327.49L230.70 1327.37L230.85 1327.25L231.01 1327.12L231.18 1326.98L231.35 1326.84L231.53 1326.69L231.72 1326.54L231.91 1326.38L232.11 1326.22L232.31 1326.05L232.53 1325.88L232.75 1325.70L232.97 1325.52L233.20 1325.33L233.44 1325.14L233.68 1324.95L233.93 1324.74L234.18 1324.54L234.44 1324.33L234.70 1324.12L234.97 1323.90L235.25 1323.68L235.53 1323.46L235.81 1323.23L236.10 1323.00L236.40 1322.76L236.70 1322.52L237.00 1322.28L237.31 1322.04L237.63 1321.79L237.95 1321.53L238.27 1321.28L238.60 1321.02L238.93 1320.76L239.27 1320.49L239.61 1320.22L239.96 1319.95L240.31 1319.68L240.67 1319.40L241.03 1319.12L241.39 1318.84L241.76 1318.55L242.13 1318.26L242.51 1317.97L242.89 1317.68L243.28 1317.38L243.67 1317.08L244.06 1316.78L244.46 1316.48L244.86 1316.17L245.27 1315.86L245.68 1315.55L246.09 1315.24L246.51 1314.92L246.94 1314.61L247.36 1314.29L247.79 1313.96L248.23 1313.64L248.66 1313.31L249.11 1312.98L249.55 1312.65L250.00 1312.32L250.45 1311.99L250.91 1311.65L251.37 1311.31L251.83 1310.97L252.30 1310.63L252.77 1310.29L253.25 1309.94L253.73 1309.60L254.21 1309.25L254.70 1308.90L255.19 1308.55L255.68 1308.19L256.17 1307.84L256.67 1307.48L257.18 1307.12L257.69 1306.76L258.20 1306.40L258.71 1306.04L259.23 1305.68L259.75 1305.31L260.27 1304.95L260.80 1304.58L261.33 1304.21L261.87 1303.84L262.40 1303.47L262.94 1303.10L263.49 1302.72L264.04 1302.35L264.59 1301.97L265.14 1301.59L265.70 1301.22L266.26 1300.84L266.82 1300.46L267.39 1300.08L267.96 1299.69L268.54 1299.31L269.11 1298.93L269.69 1298.54L270.28 1298.16L270.86 1297.77L271.45 1297.38L272.05 1297.00L272.64 1296.61L273.24 1296.22L273.84 1295.83L274.45 1295.44L275.06 1295.05L275.67 1294.65L276.28 1294.26L276.90 1293.87L277.52 1293.47L278.14 1293.08L278.77 1292.68L279.40 1292.29L280.03 1291.89L280.67 1291.50L281.31 1291.10L281.95 1290.70L282.59 1290.30L283.24 1289.91L283.89 1289.51L284.54 1289.11L285.20 1288.71L285.86 1288.31L286.52 1287.91L287.19 1287.51L287.85 1287.11L288.53 1286.71L289.20 1286.31L289.88 1285.91L290.56 1285.51L291.24 1285.11L291.92 1284.70L292.61 1284.30L293.30 1283.90L294.00 1283.50L294.69 1283.10L295.39 1282.70L296.09 1282.29L296.80 1281.89L297.51 1281.49L298.22 1281.09L298.93 1280.69L299.65 1280.28L300.36 1279.88L301.09 1279.48L301.81 1279.08L302.54 1278.68L303.27 1278.28L304.00 1277.87L304.73 1277.47L305.47 1277.07L306.21 1276.67L306.96 1276.27L307.70 1275.87L308.45 1275.47L309.20 1275.07L309.96 1274.67L310.71 1274.27L311.47 1273.87L312.23 1273.47L313.00 1273.08L313.77 1272.68L314.54 1272.28L315.31 1271.88L316.08 1271.48L316.86 1271.09L317.64 1270.69L318.43 1270.30L319.21 1269.90L320.00 1269.51L320.79 1269.11L321.58 1268.72L322.38 1268.32L323.18 1267.93L323.98 1267.54L324.78 1267.14L325.59 1266.75L326.40 1266.36L327.21 1265.97L328.02 1265.58L328.84 1265.19L329.66 1264.80L330.48 1264.41L331.30 1264.03L332.13 1263.64L332.96 1263.25L333.79 1262.87L334.62 1262.48L335.46 1262.10L336.30 1261.71L337.14 1261.33L337.98 1260.95L338.83 1260.56L339.68 1260.18L340.53 1259.80L341.39 1259.42L342.24 1259.04L343.10 1258.67L343.96 1258.29L344.82 1257.91L345.69 1257.53L346.56 1257.16L347.43 1256.78L348.30 1256.41L349.18 1256.04L350.06 1255.67L350.94 1255.29L351.82 1254.92L352.71 1254.55L353.59 1254.18L354.48 1253.82L355.38 1253.45L356.27 1253.08L357.17 1252.72L358.07 1252.35L358.97 1251.99L359.87 1251.62L360.78 1251.26L361.69 1250.90L362.60 1250.54L363.52 1250.18L364.43 1249.82L365.35 1249.46L366.27 1249.11L367.19 1248.75L368.12 1248.40L369.05 1248.04L369.98 1247.69L370.91 1247.34L371.84 1246.99L372.78 1246.64L373.72 1246.29L374.66 1245.94L375.61 1245.59L376.55 1245.25L377.50 1244.90L378.45 1244.56L379.41 1244.21L380.36 1243.87L381.32 1243.53L382.28 1243.19L383.24 1242.85L384.21 1242.51L385.17 1242.18L386.14 1241.84L387.11 1241.50L388.09 1241.17L389.06 1240.84L390.04 1240.51L391.02 1240.18L392.00 1239.85L392.99 1239.52L393.98 1239.19L394.96 1238.86L395.96 1238.54L396.95 1238.21L397.95 1237.89L398.94 1237.57L399.94 1237.24L400.95 1236.92L401.95 1236.61L402.96 1236.29L403.97 1235.97L404.98 1235.65L405.99 1235.34L407.01 1235.03L408.03 1234.71L409.05 1234.40L410.07 1234.09L411.09 1233.78L412.12 1233.47L413.15 1233.17L414.18 1232.86L415.21 1232.56L416.25 1232.25L417.28 1231.95L418.32 1231.65L419.37 1231.35L420.41 1231.05L421.46 1230.75L422.50 1230.46L423.55 1230.16L424.61 1229.86L425.66 1229.57L426.72 1229.28L427.78 1228.99L428.84 1228.70L429.90 1228.41L430.97 1228.12L432.03 1227.83L433.10 1227.55L434.18 1227.26L435.25 1226.98L436.32 1226.70L437.40 1226.42L438.48 1226.14L439.56 1225.86L440.65 1225.58L441.74 1225.30L442.82 1225.03L443.91 1224.75L445.01 1224.48L446.10 1224.21L447.20 1223.94L448.30 1223.67L449.40 1223.40L450.50 1223.13L451.61 1222.87L452.71 1222.60L453.82 1222.34L454.93 1222.08L456.05 1221.81L457.16 1221.55L458.28 1221.29L459.40 1221.04L460.52 1220.78L461.64 1220.52L462.77 1220.27L463.90 1220.01L465.03 1219.76L466.16 1219.51L467.29 1219.26L468.43 1219.01L469.57 1218.76L470.71 1218.52L471.85 1218.27L472.99 1218.03L474.14 1217.78L475.29 1217.54L476.44 1217.30L477.59 1217.06L478.74 1216.82L479.90 1216.58L481.06 1216.35L482.22 1216.11L483.38 1215.88L484.54 1215.64L485.71 1215.41L486.88 1215.18L488.05 1214.95L489.22 1214.72L490.39 1214.49L491.57 1214.26L492.75 1214.04L493.93 1213.81L495.11 1213.59L496.29 1213.37L497.48 1213.15L498.66 1212.93L499.85 1212.71L501.05 1212.49L502.24 1212.27L503.44 1212.06L504.63 1211.84L505.83 1211.63L507.03 1211.42L508.24 1211.21L509.44 1210.99L510.65 1210.79L511.86 1210.58L513.07 1210.37L514.28 1210.16L515.50 1209.96L516.72 1209.75L517.94 1209.55L519.16 1209.35L520.38 1209.15L521.60 1208.95L522.83 1208.75L524.06 1208.55L525.29 1208.36L526.52 1208.16L527.76 1207.97L528.99 1207.77L530.23 1207.58L531.47 1207.39L532.72 1207.20L533.96 1207.01L535.21 1206.82L536.45 1206.63L537.70 1206.45L538.95 1206.26L540.21 1206.08L541.46 1205.89L542.72 1205.71L543.98 1205.53L545.24 1205.35L546.51 1205.17L547.77 1204.99L549.04 1204.81L550.31 1204.64L551.58 1204.46L552.85 1204.29L554.12 1204.11L555.40 1203.94L556.68 1203.77L557.96 1203.60L559.24 1203.43L560.52 1203.26L561.81 1203.09L563.10 1202.93L564.39 1202.76L565.68 1202.60L566.97 1202.43L568.27 1202.27L569.56 1202.11L570.86 1201.95L572.16 1201.79L573.46 1201.63L574.77 1201.47L576.07 1201.31L577.38 1201.16L578.69 1201.00L580.00 1200.85L581.32 1200.69L582.63 1200.54L583.95 1200.39L585.27 1200.24L586.59 1200.09L587.91 1199.94L589.24 1199.79L590.56 1199.64L591.89 1199.50L593.22 1199.35L594.55 1199.20L595.89 1199.06L596.00 1199.05" stroke="#00da00" stroke-width="4.4" fill="none" stroke-dasharray="14.0 10.78" stroke-dashoffset="1.66"/><path d="M596.00 1199.05L597.22 1198.92L598.56 1198.78L599.90 1198.63L601.24 1198.49L602.58 1198.35L603.93 1198.22L605.28 1198.08L606.62 1197.94L607.97 1197.81L609.33 1197.67L610.68 1197.54L612.03 1197.40L613.39 1197.27L614.75 1197.14L616.11 1197.01L617.47 1196.88L618.84 1196.75L620.21 1196.62L621.57 1196.49L622.94 1196.36L624.32 1196.24L625.69 1196.11L627.06 1195.99L628.44 1195.86L629.82 1195.74L631.20 1195.62L632.58 1195.50L633.97 1195.37L635.35 1195.25L636.74 1195.14L638.13 1195.02L639.52 1194.90L640.91 1194.78L642.31 1194.67L643.71 1194.55L645.10 1194.44L646.50 1194.32L647.91 1194.21L649.31 1194.10L650.72 1193.98L652.12 1193.87L653.53 1193.76L654.94 1193.65L656.35 1193.55L657.77 1193.44L659.18 1193.33L660.60 1193.22L662.02 1193.12L663.44 1193.01L664.87 1192.91L666.29 1192.80L667.72 1192.70L669.15 1192.60L670.58 1192.50L672.01 1192.40L673.44 1192.29L674.88 1192.20L676.31 1192.10L677.75 1192.00L679.19 1191.90L680.63 1191.80L682.08 1191.71L683.52 1191.61L684.97 1191.52L686.42 1191.42L687.87 1191.33L689.32 1191.23L690.78 1191.14L692.23 1191.05L693.69 1190.96L695.15 1190.87L696.61 1190.78L698.07 1190.69L699.54 1190.60L701.01 1190.51L702.47 1190.43L703.94 1190.34L705.41 1190.25L706.89 1190.17L708.36 1190.08L709.84 1190.00L711.32 1189.91L712.80 1189.83L714.28 1189.75L715.76 1189.67L717.25 1189.58L718.73 1189.50L720.22 1189.42L721.71 1189.34L723.20 1189.26L724.70 1189.19L726.19 1189.11L727.69 1189.03L729.19 1188.95L730.69 1188.88L732.19 1188.80L733.69 1188.73L735.20 1188.65L736.71 1188.58L738.21 1188.50L739.72 1188.43L741.24 1188.36L742.75 1188.29L744.27 1188.21L745.78 1188.14L747.30 1188.07L748.82 1188.00L750.34 1187.93L751.87 1187.86L753.39 1187.80L754.92 1187.73L756.45 1187.66L757.98 1187.59L759.51 1187.53L761.05 1187.46L762.58 1187.40L764.12 1187.33L765.66 1187.27L767.20 1187.20L768.74 1187.14L770.28 1187.08L771.83 1187.01L773.37 1186.95L774.92 1186.89L776.47 1186.83L778.03 1186.77L779.58 1186.71L781.13 1186.65L782.69 1186.59L784.25 1186.53L785.81 1186.47L787.37 1186.41L788.94 1186.36L790.50 1186.30L792.07 1186.24L793.64 1186.19L795.21 1186.13L796.78 1186.07L798.35 1186.02L799.93 1185.97L801.50 1185.91L803.08 1185.86L804.66 1185.80L806.24 1185.75L807.82 1185.70L809.41 1185.65L811.00 1185.60L812.58 1185.54L814.17 1185.49L815.76 1185.44L817.36 1185.39L818.95 1185.34L820.55 1185.29L822.15 1185.24L823.75 1185.20L825.35 1185.15L826.95 1185.10L828.55 1185.05L830.16 1185.01L831.77 1184.96L833.37 1184.91L834.99 1184.87L836.60 1184.82L838.21 1184.78L839.83 1184.73L841.44 1184.69L843.06 1184.64L844.68 1184.60L846.30 1184.56L847.93 1184.51L849.55 1184.47L851.18 1184.43L852.81 1184.39L854.44 1184.35L856.07 1184.30L857.70 1184.26L859.34 1184.22L860.97 1184.18L862.61 1184.14L864.25 1184.10L865.89 1184.06L867.53 1184.02L869.18 1183.99L870.82 1183.95L872.47 1183.91L874.12 1183.87L875.77 1183.83L877.42 1183.80L879.08 1183.76L880.73 1183.72L882.39 1183.69L884.05 1183.65L885.71 1183.62L887.37 1183.58L889.03 1183.55L890.70 1183.51L892.36 1183.48L894.03 1183.44L895.70 1183.41L897.37 1183.37L899.04 1183.34L900.72 1183.31L902.39 1183.28L904.07 1183.24L905.75 1183.21L907.43 1183.18L909.11 1183.15L910.80 1183.12L912.48 1183.08L914.17 1183.05L915.86 1183.02L917.55 1182.99L919.24 1182.96L920.93 1182.93L922.62 1182.90L924.32 1182.87L926.02 1182.84L927.72 1182.82L929.42 1182.79L931.12 1182.76L932.82 1182.73L934.53 1182.70L936.24 1182.67L937.94 1182.65L939.65 1182.62L941.37 1182.59L943.08 1182.57L944.79 1182.54L946.51 1182.51L948.23 1182.49L949.95 1182.46L951.67 1182.44L953.39 1182.41L955.11 1182.39L956.84 1182.36L958.57 1182.34L960.29 1182.31L962.02 1182.29L963.76 1182.26L965.49 1182.24L967.22 1182.22L968.96 1182.19L970.70 1182.17L972.44 1182.15L974.18 1182.12L975.92 1182.10L977.66 1182.08L979.41 1182.06L981.15 1182.03L982.90 1182.01L984.65 1181.99L986.40 1181.97L988.16 1181.95L989.91 1181.93L991.67 1181.91L993.42 1181.89L995.18 1181.86L996.94 1181.84L998.71 1181.82L1000.47 1181.80L1002.23 1181.78L1004.00 1181.76L1005.77 1181.75L1007.54 1181.73L1009.31 1181.71L1011.08 1181.69L1012.86 1181.67L1014.63 1181.65L1016.41 1181.63L1018.19 1181.61L1019.97 1181.60L1021.75 1181.58L1023.53 1181.56L1025.32 1181.54L1027.10 1181.53L1028.89 1181.51L1030.68 1181.49L1032.47 1181.47L1034.26 1181.46L1036.06 1181.44L1037.85 1181.42L1039.65 1181.41L1041.45 1181.39L1043.25 1181.38L1045.05 1181.36L1046.85 1181.34L1048.65 1181.33L1050.46 1181.31L1052.27 1181.30L1054.08 1181.28L1055.89 1181.27L1057.70 1181.25L1059.51 1181.24L1061.32 1181.22L1063.14 1181.21L1064.96 1181.19L1066.78 1181.18L1068.60 1181.17L1070.42 1181.15L1072.24 1181.14L1074.07 1181.12L1075.89 1181.11L1077.72 1181.10L1079.55 1181.08L1081.38 1181.07L1083.21 1181.06L1085.05 1181.04L1086.88 1181.03L1088.72 1181.02L1090.56 1181.01L1092.40 1180.99L1094.24 1180.98L1096.08 1180.97L1097.93 1180.96L1099.77 1180.94L1101.62 1180.93L1103.47 1180.92L1105.32 1180.91L1107.17 1180.90L1109.02 1180.89L1110.88 1180.88L1112.73 1180.86L1114.59 1180.85L1116.45 1180.84L1118.31 1180.83L1120.17 1180.82L1122.03 1180.81L1123.90 1180.80L1125.76 1180.79L1127.63 1180.78L1129.50 1180.77L1131.37 1180.76L1133.24 1180.75L1135.12 1180.74L1136.99 1180.73L1138.87 1180.72L1140.75 1180.71L1142.62 1180.70L1144.50 1180.69L1146.39 1180.68L1148.27 1180.67L1150.16 1180.66L1152.04 1180.65L1153.93 1180.64L1155.82 1180.63L1157.71 1180.62L1159.60 1180.62L1161.50 1180.61L1163.39 1180.60L1165.29 1180.59L1167.19 1180.58L1169.08 1180.57L1170.99 1180.56L1172.89 1180.56L1174.79 1180.55L1176.70 1180.54L1178.60 1180.53L1180.51 1180.52L1182.42 1180.52L1184.33 1180.51L1186.24 1180.50L1188.16 1180.49L1190.07 1180.49L1191.99 1180.48L1193.91 1180.47L1195.83 1180.46L1197.75 1180.46L1199.67 1180.45L1201.59 1180.44L1203.52 1180.43L1205.45 1180.43L1207.37 1180.42L1209.30 1180.41L1211.24 1180.41L1213.17 1180.40L1215.10 1180.39L1217.04 1180.39L1218.97 1180.38L1220.91 1180.37L1222.85 1180.37L1224.79 1180.36L1226.73 1180.36L1228.68 1180.35L1230.62 1180.34L1232.57 1180.34L1234.52 1180.33L1236.47 1180.33L1238.42 1180.32L1240.37 1180.31L1242.32 1180.31L1244.28 1180.30L1246.24 1180.30L1248.19 1180.29L1250.15 1180.29L1252.11 1180.28L1254.08 1180.27L1256.04 1180.27L1258.00 1180.26L1259.97 1180.26L1261.94 1180.25L1263.91 1180.25L1265.88 1180.24L1267.85 1180.24L1269.82 1180.23L1271.80 1180.23L1273.78 1180.22L1275.75 1180.22L1277.73 1180.21L1279.71 1180.21L1281.69 1180.20L1283.68 1180.20L1285.66 1180.20L1287.65 1180.19L1289.64 1180.19L1291.62 1180.18L1293.61 1180.18L1295.61 1180.17L1297.60 1180.17L1299.59 1180.16L1301.59 1180.16L1303.59 1180.16L1305.59 1180.15L1307.59 1180.15L1309.59 1180.14L1311.59 1180.14L1313.59 1180.14L1315.60 1180.13L1317.61 1180.13L1319.62 1180.12L1321.62 1180.12L1323.64 1180.12L1325.65 1180.11L1327.66 1180.11L1329.68 1180.11L1331.69 1180.10L1333.71 1180.10L1335.73 1180.09L1337.75 1180.09L1339.77 1180.09L1341.80 1180.08L1343.82 1180.08L1345.85 1180.08L1347.88 1180.07L1349.91 1180.07L1351.94 1180.07L1353.97 1180.06L1356.00 1180.06L1358.04 1180.06L1360.07 1180.06L1362.11 1180.05L1364.15 1180.05L1366.19 1180.05L1368.23 1180.04L1370.27 1180.04L1372.32 1180.04L1374.36 1180.03L1376.41 1180.03L1378.46 1180.03L1380.51 1180.03L1382.56 1180.02L1384.61 1180.02L1386.67 1180.02L1388.72 1180.01L1390.78 1180.01L1392.84 1180.01L1394.90 1180.01L1396.96 1180.00L1399.02 1180.00L1401.08 1180.00L1403.15 1180.00L1405.21 1179.99L1407.28 1179.99L1409.35 1179.99L1411.42 1179.99L1413.49 1179.98L1415.56 1179.98L1417.64 1179.98L1419.71 1179.98L1421.79 1179.98L1423.87 1179.97L1425.95 1179.97L1428.03 1179.97L1430.11 1179.97L1432.20 1179.96L1434.28 1179.96L1436.37 1179.96L1438.46 1179.96L1440.55 1179.96L1442.64 1179.95L1444.73 1179.95L1446.82 1179.95L1448.92 1179.95L1451.01 1179.95L1453.11 1179.94L1455.21 1179.94L1457.31 1179.94L1459.41 1179.94L1461.51 1179.94L1463.62 1179.94L1465.72 1179.93L1467.83 1179.93L1469.94 1179.93L1472.05 1179.93L1474.16 1179.93L1476.27 1179.93L1478.38 1179.92L1480.50 1179.92L1482.61 1179.92L1484.73 1179.92L1486.85 1179.92L1488.97 1179.92L1491.09 1179.91L1493.21 1179.91L1495.34 1179.91L1497.46 1179.91L1499.59 1179.91L1501.72 1179.91L1503.85 1179.90L1505.98 1179.90L1508.11 1179.90L1510.25 1179.90L1512.38 1179.90L1514.52 1179.90L1516.65 1179.90L1518.79 1179.90L1520.93 1179.89L1523.08 1179.89L1525.22 1179.89L1527.36 1179.89L1529.51 1179.89L1531.65 1179.89L1533.80 1179.89L1535.95 1179.88L1538.10 1179.88L1540.26 1179.88L1542.41 1179.88L1544.56 1179.88L1546.72 1179.88L1548.88 1179.88L1551.04 1179.88L1553.20 1179.88L1555.36 1179.87L1557.52 1179.87L1559.68 1179.87L1561.85 1179.87L1564.02 1179.87L1566.19 1179.87L1568.35 1179.87L1570.53 1179.87L1572.70 1179.87L1574.87 1179.86L1577.05 1179.86L1579.22 1179.86L1581.40 1179.86L1583.58 1179.86L1585.76 1179.86L1587.94 1179.86L1590.12 1179.86L1592.30 1179.86L1594.49 1179.86L1596.68 1179.86L1598.86 1179.85L1601.05 1179.85L1603.24 1179.85L1605.44 1179.85L1607.63 1179.85L1609.82 1179.85L1612.02 1179.85L1614.22 1179.85L1616.41 1179.85L1618.61 1179.85L1620.81 1179.85L1623.02 1179.85L1625.22 1179.84L1627.43 1179.84L1629.63 1179.84L1631.84 1179.84L1634.05 1179.84L1636.26 1179.84L1638.47 1179.84L1640.68 1179.84L1642.90 1179.84L1645.11 1179.84L1647.33 1179.84L1649.55 1179.84L1651.76 1179.84L1653.98 1179.84L1656.21 1179.83L1658.43 1179.83L1660.65 1179.83L1662.88 1179.83L1665.11 1179.83L1667.33 1179.83L1669.56 1179.83L1671.80 1179.83L1674.03 1179.83L1676.26 1179.83L1678.50 1179.83L1680.73 1179.83L1682.97 1179.83L1685.21 1179.83L1687.45 1179.83L1689.69 1179.83L1691.93 1179.83L1694.17 1179.82L1696.42 1179.82L1698.67 1179.82L1700.91 1179.82L1703.16 1179.82L1705.41 1179.82L1707.66 1179.82L1709.92 1179.82L1712.17 1179.82L1714.43 1179.82L1716.68 1179.82L1718.94 1179.82L1721.20 1179.82L1723.46 1179.82L1725.72 1179.82L1727.99 1179.82L1730.25 1179.82L1732.52 1179.82L1734.78 1179.82L1737.05 1179.82L1739.32 1179.82L1741.59 1179.82L1743.86 1179.81L1746.14 1179.81L1748.41 1179.81L1750.69 1179.81L1752.96 1179.81L1755.24 1179.81L1757.52 1179.81L1759.80 1179.81L1762.09 1179.81L1764.37 1179.81L1766.65 1179.81L1768.94 1179.81L1771.23 1179.81L1773.52 1179.81L1775.81 1179.81L1778.10 1179.81L1780.39 1179.81L1782.68 1179.81L1784.98 1179.81L1787.27 1179.81L1789.57 1179.81L1791.87 1179.81L1794.17 1179.81L1796.47 1179.81L1798.77 1179.81L1801.08 1179.81L1803.38 1179.81L1805.69 1179.81L1808.00 1179.81L1810.31 1179.80L1812.62 1179.80L1814.93 1179.80L1817.24 1179.80L1819.55 1179.80L1821.87 1179.80L1824.19 1179.80L1826.50 1179.80L1828.82 1179.80L1831.14 1179.80L1833.47 1179.80L1835.79 1179.80L1838.11 1179.80L1840.44 1179.80L1842.76 1179.80L1845.09 1179.80L1847.42 1179.80L1849.75 1179.80L1852.08 1179.80L1854.42 1179.80L1856.75 1179.80L1859.09 1179.80L1861.42 1179.80L1863.76 1179.80L1866.10 1179.80L1868.44 1179.80L1870.78 1179.80L1873.12 1179.80L1875.47 1179.80L1877.81 1179.80L1880.16 1179.80L1882.51 1179.80L1884.86 1179.80L1887.21 1179.80L1889.56 1179.80L1891.91 1179.80L1894.27 1179.80L1896.62 1179.80L1898.98 1179.80L1901.34 1179.80L1903.70 1179.80L1906.06 1179.80L1908.42 1179.80L1910.78 1179.80L1913.15 1179.80L1915.51 1179.79L1917.88 1179.79L1920.25 1179.79L1922.61 1179.79L1924.99 1179.79L1927.36 1179.79L1929.73 1179.79L1932.10 1179.79L1934.48 1179.79L1936.86 1179.79L1939.23 1179.79L1941.61 1179.79L1943.99 1179.79L1946.37 1179.79L1948.76 1179.79L1951.14 1179.79L1953.53 1179.79L1955.91 1179.79L1958.30 1179.79L1960.69 1179.79L1963.08 1179.79L1965.47 1179.79L1967.86 1179.79L1970.26 1179.79L1972.65 1179.79L1975.05 1179.79L1977.45 1179.79L1979.85 1179.79L1982.25 1179.79L1984.65 1179.79L1987.05 1179.79L1989.45 1179.79L1991.86 1179.79L1994.27 1179.79L1996.67 1179.79L1999.08 1179.79L2001.49 1179.79L2003.90 1179.79L2006.32 1179.79L2008.73 1179.79L2011.14 1179.79L2013.56 1179.79L2015.98 1179.79L2018.40 1179.79L2020.82 1179.79L2023.24 1179.79L2025.66 1179.79L2028.08 1179.79L2030.51 1179.79L2032.93 1179.79L2035.36 1179.79L2037.79 1179.79L2040.22 1179.79L2042.65 1179.79L2045.08 1179.79L2047.52 1179.79L2049.95 1179.79L2052.39 1179.79L2054.82 1179.79L2057.26 1179.79L2059.70 1179.79" stroke="#00da00" stroke-width="4.4" fill="none" stroke-dasharray="14.0 10.78" stroke-dashoffset="1.47"/>
<path d="M217.0 1315.5h25.4v25.4h-25.4zM308.5 605.1h25.4v25.4h-25.4zM400.0 524.7h25.4v25.4h-25.4zM583.0 442.9h25.4v25.4h-25.4zM949.0 372.7h25.4v25.4h-25.4zM1315.0 337.6h25.4v25.4h-25.4zM1681.0 316.5h25.4v25.4h-25.4zM2047.0 309.7h25.4v25.4h-25.4z" fill="#0000ff"/>
<path d="M321.2 605.1V582.7M321.2 630.5V652.9M308.6 582.7h25.2M308.6 652.9h25.2M412.7 524.7V498.0M412.7 550.1V576.3M400.1 498.0h25.2M400.1 576.3h25.2M595.7 442.9V421.0M595.7 468.3V490.0M583.1 421.0h25.2M583.1 490.0h25.2M961.7 372.7V347.6M961.7 398.1V423.3M949.1 347.6h25.2M949.1 423.3h25.2M1327.7 337.6V311.7M1327.7 363.0V390.0M1315.1 311.7h25.2M1315.1 390.0h25.2M1693.7 316.5V289.5M1693.7 341.9V368.8M1681.1 289.5h25.2M1681.1 368.8h25.2M2059.7 309.7V282.2M2059.7 335.1V362.5M2047.1 282.2h25.2M2047.1 362.5h25.2" stroke="#000" stroke-width="5.0" fill="none"/>
<circle cx="229.7" cy="1328.2" r="13.0" fill="#ff8000"/><circle cx="321.2" cy="800.0" r="13.0" fill="#ff8000"/><circle cx="412.7" cy="702.0" r="13.0" fill="#ff8000"/><circle cx="595.7" cy="642.0" r="13.0" fill="#ff8000"/><circle cx="961.7" cy="554.8" r="13.0" fill="#ff8000"/><circle cx="1327.7" cy="526.7" r="13.0" fill="#ff8000"/><circle cx="1693.7" cy="519.6" r="13.0" fill="#ff8000"/><circle cx="2059.7" cy="501.5" r="13.0" fill="#ff8000"/>
<path d="M321.2 787.3V774.3M321.2 812.7V827.0M308.6 774.3h25.2M308.6 827.0h25.2M412.7 689.3V670.5M412.7 714.7V733.3M400.1 670.5h25.2M400.1 733.3h25.2M595.7 629.3V608.2M595.7 654.7V676.3M583.1 608.2h25.2M583.1 676.3h25.2M961.7 542.1V523.8M961.7 567.5V585.7M949.1 523.8h25.2M949.1 585.7h25.2M1327.7 514.0V495.0M1327.7 539.4V558.5M1315.1 495.0h25.2M1315.1 558.5h25.2M1693.7 506.9V486.8M1693.7 532.3V551.4M1681.1 486.8h25.2M1681.1 551.4h25.2M2059.7 488.8V468.2M2059.7 514.2V534.8M2047.1 468.2h25.2M2047.1 534.8h25.2" stroke="#000" stroke-width="5.0" fill="none"/>
<path d="M229.7 1315.5L242.4 1340.9H217.0zM321.2 1252.5L333.9 1277.9H308.5zM412.7 1228.5L425.4 1253.9H400.0zM595.7 1182.3L608.4 1207.7H583.0zM961.7 1171.7L974.4 1197.1H949.0zM1327.7 1171.2L1340.4 1196.6H1315.0zM1693.7 1171.2L1706.4 1196.6H1681.0zM2059.7 1157.5L2072.4 1182.9H2047.0z" fill="#00c400"/>
<path d="M595.7 1182.3V1181.0M595.7 1207.7V1208.6M583.1 1181.0h25.2M583.1 1208.6h25.2M961.7 1171.7V1169.8M961.7 1197.1V1198.9M949.1 1169.8h25.2M949.1 1198.9h25.2M1327.7 1171.2V1169.2M1327.7 1196.6V1198.6M1315.1 1169.2h25.2M1315.1 1198.6h25.2M1693.7 1171.2V1169.2M1693.7 1196.6V1198.6M1681.1 1169.2h25.2M1681.1 1198.6h25.2M2059.7 1157.5V1154.4M2059.7 1182.9V1185.9M2047.1 1154.4h25.2M2047.1 1185.9h25.2" stroke="#000" stroke-width="5.0" fill="none"/>
<path d="M289 87.8H301M336.5 87.8H343" stroke="#00da00" stroke-width="4.8"/>
<path d="M316 75.3L329 100.3H303z" fill="#00c400"/>
<text transform="translate(0 111.9) scale(1 1.04) translate(0 -111.9)" y="111.9" style="font-family:'Liberation Sans',Arial,sans-serif;font-size:53.5px"><tspan x="372.6">Cr</tspan><tspan x="430.3" y="88.4" style="font-size:39px">3+</tspan><tspan x="477.5" y="111.9">= 0.1 g L</tspan><tspan x="686.7" y="88.4" style="font-size:39px">-1</tspan><tspan x="724.8" y="111.9"> (&gt;0.42mm)</tspan></text>
<path d="M289 177.1H301M336.5 177.1H343" stroke="#ff8c00" stroke-width="4.8"/>
<circle cx="315.8" cy="177.1" r="13" fill="#ff8000"/>
<text transform="translate(0 201.3) scale(1 1.04) translate(0 -201.3)" y="201.3" style="font-family:'Liberation Sans',Arial,sans-serif;font-size:53.5px"><tspan x="372.6">Cr</tspan><tspan x="430.3" y="177.8" style="font-size:39px">3+</tspan><tspan x="477.5" y="201.3">= 0.5 g L</tspan><tspan x="686.7" y="177.8" style="font-size:39px">-1</tspan><tspan x="724.8" y="201.3"> (&gt;0.42mm)</tspan></text>
<path d="M289 266.0H301M336.5 266.0H343" stroke="#0000ff" stroke-width="4.8"/>
<rect x="303.2" y="253.5" width="25.4" height="25" fill="#0000ff"/>
<text transform="translate(0 290.7) scale(1 1.04) translate(0 -290.7)" y="290.7" style="font-family:'Liberation Sans',Arial,sans-serif;font-size:53.5px"><tspan x="372.6">Cr</tspan><tspan x="430.3" y="267.2" style="font-size:39px">3+</tspan><tspan x="477.5" y="290.7">= 0.5 g L</tspan><tspan x="686.7" y="267.2" style="font-size:39px">-1</tspan><tspan x="724.8" y="290.7"> (&lt;0.42mm)</tspan></text>
</g>
</svg></body></html>
